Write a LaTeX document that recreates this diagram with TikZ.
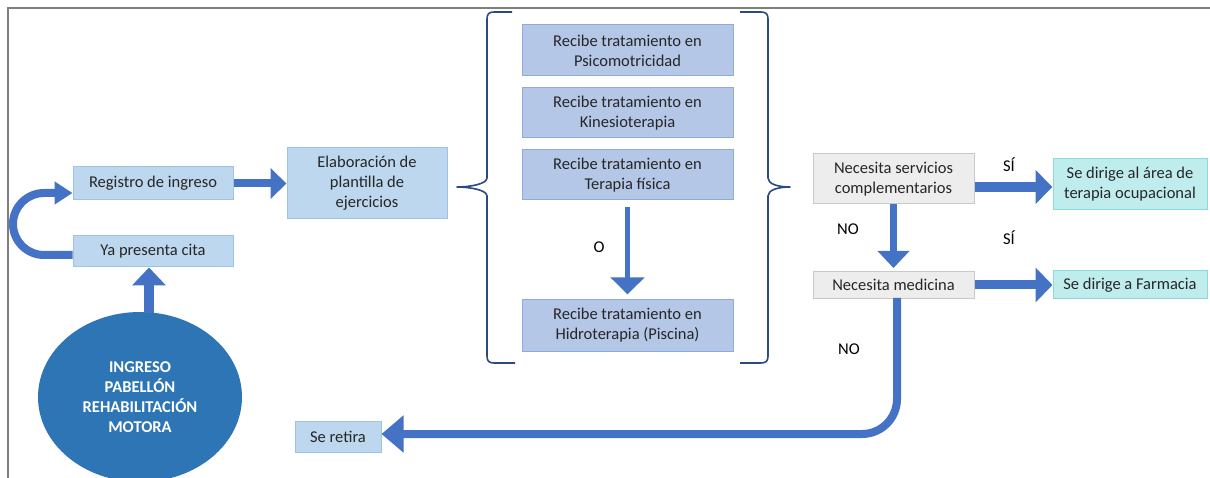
\documentclass[tikz,border=0pt]{standalone}
\usepackage{fontspec}
\setmainfont{Carlito}
\usetikzlibrary{arrows.meta,shapes.geometric,calc}

\definecolor{arrowblue}{HTML}{4472C4}
\definecolor{ellblue}{HTML}{2E75B6}
\definecolor{boxfill}{HTML}{BDD7EE}
\definecolor{boxline}{HTML}{9DC3E6}
\definecolor{trfill}{HTML}{B4C7E7}
\definecolor{trline}{HTML}{8FAADC}
\definecolor{qfill}{HTML}{EDEDED}
\definecolor{qline}{HTML}{C9C9C9}
\definecolor{outfill}{HTML}{BFEDEE}
\definecolor{outline}{HTML}{8FD8DB}
\definecolor{bracecol}{HTML}{2B4A7E}
\definecolor{framecol}{HTML}{7F7F7F}
\definecolor{txt}{HTML}{262626}

\tikzset{
  basebox/.style={rectangle, line width=1pt, align=center, inner sep=0pt,
    text=txt, font=\fontsize{16.5}{20}\selectfont},
  stepbox/.style={basebox, fill=boxfill, draw=boxline},
  treatbox/.style={basebox, fill=trfill, draw=trline, minimum width=211pt},
  askbox/.style={basebox, fill=qfill, draw=qline, minimum width=161pt},
  endbox/.style={basebox, fill=outfill, draw=outline, minimum width=154pt},
  lbl/.style={text=black, font=\fontsize{16.5}{20}\selectfont, inner sep=0pt},
  fat/.style={draw=arrowblue, line width=#1},
  bracket/.style={draw=bracecol, line width=1.6pt, line join=round}
}

\begin{document}
\begin{tikzpicture}[x=1pt,y=-1pt]
  \useasboundingbox (0,0) rectangle (1210,478);
  \clip (0,0) rectangle (1210,478);

  % frame lines
  \draw[framecol, line width=2pt] (8,478) -- (8,8) -- (1210,8);

  % left column
  \node[stepbox, minimum width=160pt, minimum height=33pt] (reg) at (153,183.5) {Registro de ingreso};
  \node[stepbox, minimum width=160pt, minimum height=31pt] (ya) at (153,251.5) {Ya presenta cita};
  \node[ellipse, fill=ellblue, minimum width=204pt, minimum height=170pt, inner sep=0pt,
        align=center, text=white, font=\fontsize{16.5}{20}\selectfont\bfseries] (ell) at (140,397)
        {INGRESO\\PABELLÓN\\REHABILITACIÓN\\MOTORA};
  \node[stepbox, minimum width=160pt, minimum height=71pt] (elab) at (367,183.5)
        {Elaboración de\\plantilla de\\ejercicios};
  \node[stepbox, minimum width=86pt, minimum height=31pt] (ret) at (338,436.5) {Se retira};

  % treatments
  \node[treatbox, minimum height=51pt] (psi) at (627.5,50.5) {Recibe tratamiento en\\Psicomotricidad};
  \node[treatbox, minimum height=50pt] (kin) at (627.5,113) {Recibe tratamiento en\\Kinesioterapia};
  \node[treatbox, minimum height=50pt] (ter) at (627.5,175) {Recibe tratamiento en\\Terapia física};
  \node[treatbox, minimum height=51pt] (hid) at (627.5,325.5) {Recibe tratamiento en\\Hidroterapia (Piscina)};
  \node[lbl] (o) at (599,247) {O};

  % brackets around the treatments
  \draw[bracket] (512,12) -- (494,12) .. controls (489,12) and (487,14) .. (487,19)
    -- (487,178) .. controls (487,184) and (470,187) .. (457,187)
    .. controls (470,187) and (487,190) .. (487,196)
    -- (487,356) .. controls (487,361) and (489,363) .. (494,363) -- (515,363);
  \draw[bracket] (740,12) -- (761,12) .. controls (766,12) and (768,14) .. (768,19)
    -- (768,178) .. controls (768,184) and (778,187) .. (790,187)
    .. controls (778,187) and (768,190) .. (768,196)
    -- (768,356) .. controls (768,361) and (766,363) .. (761,363) -- (740,363);

  % decisions
  \node[askbox, minimum height=50pt] (serv) at (893.5,179) {Necesita servicios\\complementarios};
  \node[askbox, minimum height=27pt] (med) at (893.5,285) {Necesita medicina};
  \node[endbox, minimum height=51pt] (area) at (1130,184.5) {Se dirige al área de\\terapia ocupacional};
  \node[endbox, minimum height=28pt] (farm) at (1130,285) {Se dirige a Farmacia};

  \node[lbl] (si1) at (1009,165) {SÍ};
  \node[lbl] (no1) at (848,229) {NO};
  \node[lbl] (si2) at (1009,238) {SÍ};
  \node[lbl] (no2) at (849,349) {NO};

  % connectors
  \draw[fat=8pt, -{Triangle[width=30pt,length=16pt]}] (reg.east) -- (elab.west);

  \coordinate (etop) at (149,313);
  \draw[fat=10pt, -{Triangle[width=33pt,length=18pt]}] (etop) -- (etop |- ya.south);

  % U-turn from the appointment box back to registration
  \coordinate (yaw) at ($(ya.west)+(0,3.5)$);
  \coordinate (regw) at ($(reg.west)+(0,9.5)$);
  \draw[fat=8pt, -{Triangle[width=22pt,length=18pt]}]
    (yaw) -- (44,255) .. controls (27,255) and (13,241) .. (13,224)
    .. controls (13,207) and (27,193) .. (44,193) -- (regw);

  \draw[fat=5pt, -{Triangle[width=33pt,length=17pt]}]
    ($(ter.south)+(0,7)$) -- ($(hid.north)+(0,-5)$);

  \coordinate (serve) at (serv.east |- 0,187);
  \draw[fat=10pt, -{Triangle[width=33pt,length=17pt]}] (serve) -- (serve -| area.west);

  \draw[fat=7pt, -{Triangle[width=31pt,length=17pt]}] (serv.south) -- ($(med.north)+(0,-3)$);

  \draw[fat=9pt, -{Triangle[width=34pt,length=17pt]}] (med.east) -- (farm.west);

  \coordinate (meds) at (897,298);
  \coordinate (retl) at (897,434);
  \draw[fat=8pt, rounded corners=35pt, -{Triangle[width=36pt,length=22pt]}]
    (meds) -- (retl) -- (retl -| ret.east);
\end{tikzpicture}
\end{document}
